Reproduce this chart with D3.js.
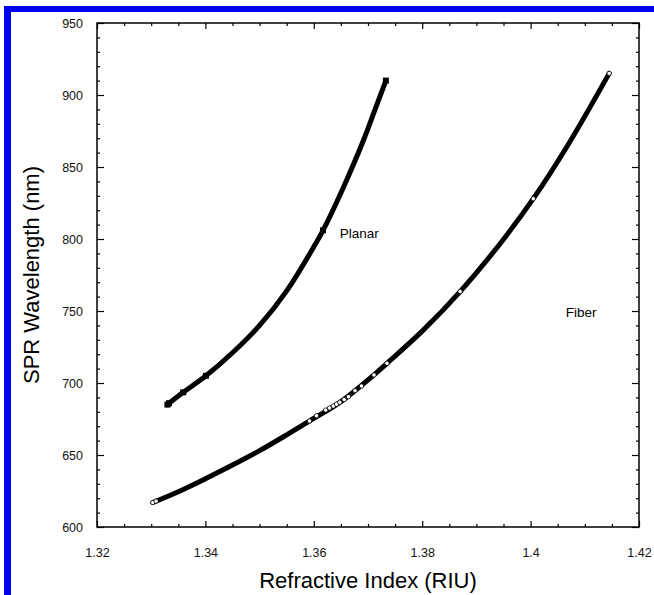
<!DOCTYPE html>
<html>
<head>
<meta charset="utf-8">
<script src="https://cdn.jsdelivr.net/npm/d3@7"></script>
<style>
  body { margin: 0; background: #fff; }
  svg { display: block; font-family: "Liberation Sans", Arial, sans-serif; }
  .axis path { display: none; }
  .axis line { stroke: #000; stroke-width: 1.2; }
  .axis text { font-size: 12.5px; fill: #111; }
</style>
</head>
<body>
<div id="chart"></div>
<script>
// values
var xTickValues = [1.32, 1.34, 1.36, 1.38, 1.40, 1.42];
var xTickLabels = ["1.32", "1.34", "1.36", "1.38", "1.4", "1.42"];
var yTickValues = [600, 650, 700, 750, 800, 850, 900, 950];

// planar curve and its points
var planarRI = [1.3330, 1.3359, 1.3401, 1.3450, 1.3500, 1.3550, 1.3596, 1.3617, 1.3650, 1.3690, 1.3716, 1.3733];
var planarNm = [685, 693.5, 705, 721, 740, 764, 792, 806, 832, 867, 893, 910];
var planarPtRI = [1.3330, 1.3333, 1.3359, 1.3401, 1.3617, 1.3733];
var planarPtNm = [685, 686, 693.5, 705, 806, 910];

// fiber curve and its points
var fiberRI = [1.3303, 1.3350, 1.3400, 1.3450, 1.3500, 1.3550, 1.3592, 1.3650, 1.3711, 1.3735, 1.3800, 1.3870, 1.3940, 1.4005, 1.4070, 1.4145];
var fiberNm = [617, 624.5, 633.5, 643, 653, 664, 673.6, 687, 705.6, 713.7, 736, 763.5, 795, 828, 866, 915];
var fiberPtRI = [1.3303, 1.3309, 1.3592, 1.3605, 1.3622, 1.3629, 1.3636, 1.3642, 1.3648, 1.3656, 1.3664, 1.3676, 1.3688, 1.3711, 1.3735, 1.3870, 1.4005, 1.4145];
var fiberPtNm = [617, 618, 673.6, 677.3, 681.2, 682.6, 684, 685.3, 686.6, 688.5, 690.5, 694.7, 697.9, 705.6, 713.7, 763.5, 828, 915];

var width = 654, height = 595;
var margin = {left: 97, right: 15, top: 23, bottom: 68};

var svg = d3.select("#chart")
    .append("svg")
    .attr("width", width)
    .attr("height", height);

// blue border of the scan
svg.append("rect")
    .attr("x", 4).attr("y", 6)
    .attr("width", 7).attr("height", height - 6)
    .style("fill", "#0000f0");
svg.append("rect")
    .attr("x", 4).attr("y", 6)
    .attr("width", width - 4).attr("height", 6)
    .style("fill", "#0000f0");

var x = d3.scaleLinear()
    .domain([1.32, 1.42])
    .range([margin.left, width - margin.right]);

var y = d3.scaleLinear()
    .domain([600, 950])
    .range([height - margin.bottom, margin.top]);

var x0 = x.range()[0], x1 = x.range()[1];
var y0 = y.range()[0], y1 = y.range()[1];

var xMinor = d3.range(1.32, 1.4201, 0.005).filter(function(d){
    return Math.abs(Math.round(d * 50) - d * 50) > 1e-6;
});
var yMinor = d3.range(600, 951, 10).filter(function(d){ return d % 50 !== 0; });

// bottom
svg.append("g").attr("class", "axis")
    .attr("transform", "translate(0," + y0 + ")")
    .call(d3.axisBottom(x).tickValues(xTickValues).tickSize(-6).tickPadding(21)
        .tickFormat(function(d, i){ return xTickLabels[i]; }));
svg.append("g").attr("class", "axis")
    .attr("transform", "translate(0," + y0 + ")")
    .call(d3.axisBottom(x).tickValues(xMinor).tickSize(-3).tickFormat(""));
// top
svg.append("g").attr("class", "axis")
    .attr("transform", "translate(0," + y1 + ")")
    .call(d3.axisTop(x).tickValues(xTickValues).tickSize(-6).tickFormat(""));
svg.append("g").attr("class", "axis")
    .attr("transform", "translate(0," + y1 + ")")
    .call(d3.axisTop(x).tickValues(xMinor).tickSize(-3).tickFormat(""));
// left
svg.append("g").attr("class", "axis")
    .attr("transform", "translate(" + x0 + ",0)")
    .call(d3.axisLeft(y).tickValues(yTickValues).tickSize(-7).tickPadding(14));
svg.append("g").attr("class", "axis")
    .attr("transform", "translate(" + x0 + ",0)")
    .call(d3.axisLeft(y).tickValues(yMinor).tickSize(-3).tickFormat(""));
// right
svg.append("g").attr("class", "axis")
    .attr("transform", "translate(" + x1 + ",0)")
    .call(d3.axisRight(y).tickValues(yTickValues).tickSize(-7).tickFormat(""));
svg.append("g").attr("class", "axis")
    .attr("transform", "translate(" + x1 + ",0)")
    .call(d3.axisRight(y).tickValues(yMinor).tickSize(-3).tickFormat(""));

// frame
svg.append("rect")
    .attr("x", x0).attr("y", y1)
    .attr("width", x1 - x0).attr("height", y0 - y1)
    .style("fill", "none")
    .style("stroke", "#000")
    .style("stroke-width", 1.5);

var line = d3.line()
    .x(function(d){ return x(d[0]); })
    .y(function(d){ return y(d[1]); })
    .curve(d3.curveCatmullRom);

var planar = d3.zip(planarRI, planarNm);
var fiber = d3.zip(fiberRI, fiberNm);

svg.append("path")
    .datum(planar)
    .attr("d", line)
    .style("fill", "none")
    .style("stroke", "#000")
    .style("stroke-width", 5)
    .style("stroke-linecap", "round");

svg.append("path")
    .datum(fiber)
    .attr("d", line)
    .style("fill", "none")
    .style("stroke", "#000")
    .style("stroke-width", 5)
    .style("stroke-linecap", "round");

svg.selectAll("rect.planarPt")
    .data(d3.zip(planarPtRI, planarPtNm))
    .enter()
    .append("rect")
    .attr("class", "planarPt")
    .attr("x", function(d){ return x(d[0]) - 3; })
    .attr("y", function(d){ return y(d[1]) - 3; })
    .attr("width", 6)
    .attr("height", 6)
    .style("fill", "#000");

svg.selectAll("circle.fiberPt")
    .data(d3.zip(fiberPtRI, fiberPtNm))
    .enter()
    .append("circle")
    .attr("class", "fiberPt")
    .attr("cx", function(d){ return x(d[0]); })
    .attr("cy", function(d){ return y(d[1]); })
    .attr("r", 2.2)
    .style("fill", "#fff")
    .style("stroke", "#000")
    .style("stroke-width", 0.8);

// curve labels
svg.append("text")
    .attr("x", x(1.3648))
    .attr("y", y(801))
    .attr("font-size", "13.5px")
    .text("Planar");

svg.append("text")
    .attr("x", x(1.4065))
    .attr("y", y(746))
    .attr("font-size", "13.5px")
    .text("Fiber");

// axis titles
svg.append("text")
    .attr("x", (x0 + x1) / 2)
    .attr("y", 588)
    .attr("text-anchor", "middle")
    .attr("font-size", "22px")
    .text("Refractive Index (RIU)");

svg.append("text")
    .attr("transform", "translate(39," + ((y0 + y1) / 2) + ") rotate(-90)")
    .attr("text-anchor", "middle")
    .attr("font-size", "22px")
    .text("SPR Wavelength (nm)");
</script>
</body>
</html>
